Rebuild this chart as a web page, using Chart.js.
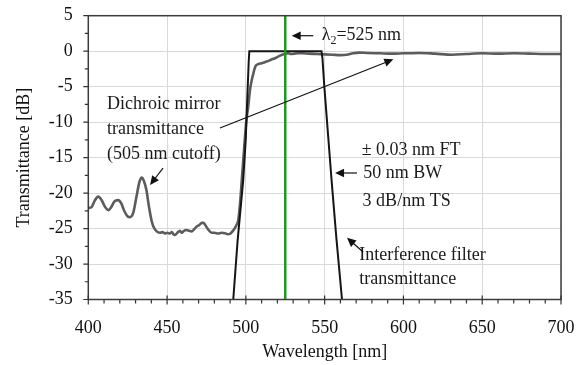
<!DOCTYPE html>
<html><head><meta charset="utf-8">
<script src="https://cdn.jsdelivr.net/npm/chart.js@4/dist/chart.umd.min.js"></script>
<style>html,body{margin:0;padding:0;background:#fff}</style>
</head><body>
<canvas id="c" width="582" height="365"></canvas>
<script>
// ---- data ----
const dichroicWavelength = [400,402,404,406.3,408.5,410.5,412.7,414.5,416.5,419,421,423,425,426.5,428.5,430.5,432.5,433.9,435.3,437,438.2,439.2,440.3,441.3,443.4,445.5,447,448.7,450,451.8,453,454,455,456.5,458.2,459.2,460.3,462,464,465.6,467.2,468.8,470.5,472,473,474.5,476,478.3,480,482.5,484.5,486.7,488.5,489.9,491.5,493.1,494.3,495.2,496.3,497.3,498.3,499.3,500.3,501.5,502.6,503.7,504.7,505.5,506.5,508,510,512,514,516,518.5,521,523,525,527,529,531,533,536,540,545,550,555,560,564,568,572,577,585,593,600,610,620,631,640,650,660,670,680,690,700];
const dichroicDb = [-22.1,-22.0,-21.1,-20.5,-21.0,-21.9,-22.4,-22.0,-21.2,-21.0,-21.5,-22.6,-23.3,-23.4,-22.8,-20.6,-18.4,-17.8,-18.3,-19.7,-21.5,-22.8,-24.0,-24.7,-25.4,-25.6,-25.5,-25.7,-25.6,-25.7,-25.5,-25.8,-25.9,-25.6,-25.3,-25.6,-25.4,-25.2,-25.3,-25.4,-25.1,-24.7,-24.5,-24.2,-24.2,-24.6,-25.1,-25.6,-25.6,-25.7,-25.6,-25.65,-25.8,-25.75,-25.4,-24.9,-24.4,-23.8,-21.5,-18.5,-15.5,-12.5,-9.8,-7.8,-5.5,-4.1,-3.2,-2.5,-2.0,-1.8,-1.7,-1.55,-1.4,-1.2,-1.0,-0.7,-0.5,-0.35,-0.3,-0.4,-0.35,-0.3,-0.3,-0.35,-0.4,-0.45,-0.5,-0.55,-0.5,-0.3,-0.2,-0.25,-0.3,-0.35,-0.3,-0.25,-0.35,-0.5,-0.4,-0.3,-0.35,-0.3,-0.35,-0.4,-0.4];
const filterWavelength = [492,494.8,498.3,499.9,501,501.8,502.2,510,525,540,548,548.6,549.8,554.4,557.5,561];
const filterDb = [-35,-26.6,-18.2,-12.5,-6,-1.5,0,0,0,0,0,-1,-5,-18.2,-26.5,-35];
const markerWavelength = [525,525];
const markerDb = [-35,5];
const xTickValues = [400,450,500,550,600,650,700];
const yTickValues = [5,0,-5,-10,-15,-20,-25,-30,-35];

const FONT = '"Liberation Serif", "Times New Roman", serif';
const toPts = (xs, ys) => xs.map((x, i) => ({x, y: ys[i]}));

const overlay = {
  id: 'overlay',
  afterDraw(chart) {
    const ctx = chart.ctx, ca = chart.chartArea, xs = chart.scales.x, ys = chart.scales.y;
    const X = v => xs.getPixelForValue(v), Y = v => ys.getPixelForValue(v);
    ctx.save();
    // frame
    ctx.strokeStyle = '#3c3c3c'; ctx.lineWidth = 1.5;
    ctx.strokeRect(ca.left, ca.top, ca.right - ca.left, ca.bottom - ca.top);
    // tick marks
    ctx.lineWidth = 1.2; ctx.strokeStyle = '#333';
    ctx.beginPath();
    for (let v = 400; v <= 700; v += 10) {
      const p = X(v), major = v % 50 === 0;
      ctx.moveTo(p, ca.bottom - (major ? 4 : 0)); ctx.lineTo(p, ca.bottom + (major ? 5 : 4));
    }
    for (let v = -35; v <= 5; v += 2.5) {
      const p = Y(v), major = v % 5 === 0;
      ctx.moveTo(ca.left - (major ? 5 : 3.5), p); ctx.lineTo(ca.left, p);
    }
    ctx.stroke();

    // annotations
    ctx.fillStyle = '#1a1a1a'; ctx.textBaseline = 'middle'; ctx.textAlign = 'left';
    ctx.font = '18px ' + FONT;
    const text = (s, wx, wy) => ctx.fillText(s, X(wx), Y(wy));
    text('Dichroic mirror', 411.9, -7.45);
    text('transmittance', 411.9, -10.95);
    text('(505 nm cutoff)', 411.9, -14.5);
    text('\u00B1 0.03 nm FT', 573.5, -13.93);
    text('50 nm BW', 574.5, -17.17);
    text('3 dB/nm TS', 574.1, -21.2);
    text('Interference filter', 572, -28.73);
    text('transmittance', 572, -32.11);
    // lambda_2 label
    let lx = X(548.1), ly = Y(2.18);
    ctx.fillText('\u03BB', lx, ly); lx += ctx.measureText('\u03BB').width;
    ctx.font = '12px ' + FONT; ctx.fillText('2', lx, ly + 5); lx += ctx.measureText('2').width;
    ctx.font = '18px ' + FONT; ctx.fillText('=525 nm', lx, ly);

    const arrow = (x1, y1, x2, y2) => {
      const a = X(x1), b = Y(y1), c = X(x2), d = Y(y2);
      const ang = Math.atan2(d - b, c - a), L = 9, W = 4.2;
      ctx.strokeStyle = '#111'; ctx.lineWidth = 1.2;
      ctx.beginPath(); ctx.moveTo(a, b);
      ctx.lineTo(c - Math.cos(ang) * L * 0.8, d - Math.sin(ang) * L * 0.8); ctx.stroke();
      ctx.fillStyle = '#111'; ctx.beginPath();
      ctx.moveTo(c, d);
      ctx.lineTo(c - Math.cos(ang) * L - Math.sin(ang) * W, d - Math.sin(ang) * L + Math.cos(ang) * W);
      ctx.lineTo(c - Math.cos(ang) * L + Math.sin(ang) * W, d - Math.sin(ang) * L - Math.cos(ang) * W);
      ctx.closePath(); ctx.fill();
    };
    arrow(542.8, 2.18, 529.1, 2.18);
    arrow(570.5, -17.17, 556.6, -17.17);
    arrow(574.4, -28.3, 564.2, -26.3);
    arrow(483.6, -10.83, 593.6, -1.15);
    arrow(447.4, -16.47, 439.2, -18.86);
    ctx.restore();
  }
};

new Chart(document.getElementById('c'), {
  type: 'line',
  data: {
    datasets: [
      { data: toPts(markerWavelength, markerDb), borderColor: '#14a014', borderWidth: 2.5, pointRadius: 0, tension: 0 },
      { data: toPts(filterWavelength, filterDb), borderColor: '#151515', borderWidth: 2, pointRadius: 0, tension: 0 },
      { data: toPts(dichroicWavelength, dichroicDb), borderColor: '#5c5c5c', borderWidth: 2.6, pointRadius: 0, tension: 0.35, cubicInterpolationMode: 'monotone' }
    ]
  },
  options: {
    responsive: false, animation: false, devicePixelRatio: 1,
    layout: { padding: { top: 15.7, right: 21, left: 0, bottom: 0 } },
    plugins: { legend: { display: false }, tooltip: { enabled: false } },
    scales: {
      x: {
        type: 'linear', min: 400, max: 700,
        afterBuildTicks: s => { s.ticks = xTickValues.map(v => ({value: v})); },
        afterFit: s => { s.height = 65.5; s.paddingLeft = 0; s.paddingRight = 0; },
        grid: { color: '#d9d9d9', lineWidth: 1, drawTicks: false },
        border: { display: false },
        ticks: { color: '#111', font: { family: FONT, size: 18 }, padding: 18, maxRotation: 0 },
        title: { display: true, text: 'Wavelength [nm]', color: '#111', font: { family: FONT, size: 18 }, padding: { top: 0, bottom: 2 } }
      },
      y: {
        type: 'linear', min: -35, max: 5,
        afterBuildTicks: s => { s.ticks = yTickValues.map(v => ({value: v})); },
        afterFit: s => { s.width = 88.3; s.paddingTop = 0; s.paddingBottom = 0; },
        grid: { color: '#d9d9d9', lineWidth: 1, drawTicks: false },
        border: { display: false },
        ticks: { color: '#111', font: { family: FONT, size: 18 }, padding: 15.5 },
        title: { display: true, text: 'Transmittance [dB]', color: '#111', font: { family: FONT, size: 18 }, padding: { top: 13, bottom: 0 } }
      }
    }
  },
  plugins: [overlay]
});
</script>
</body></html>
